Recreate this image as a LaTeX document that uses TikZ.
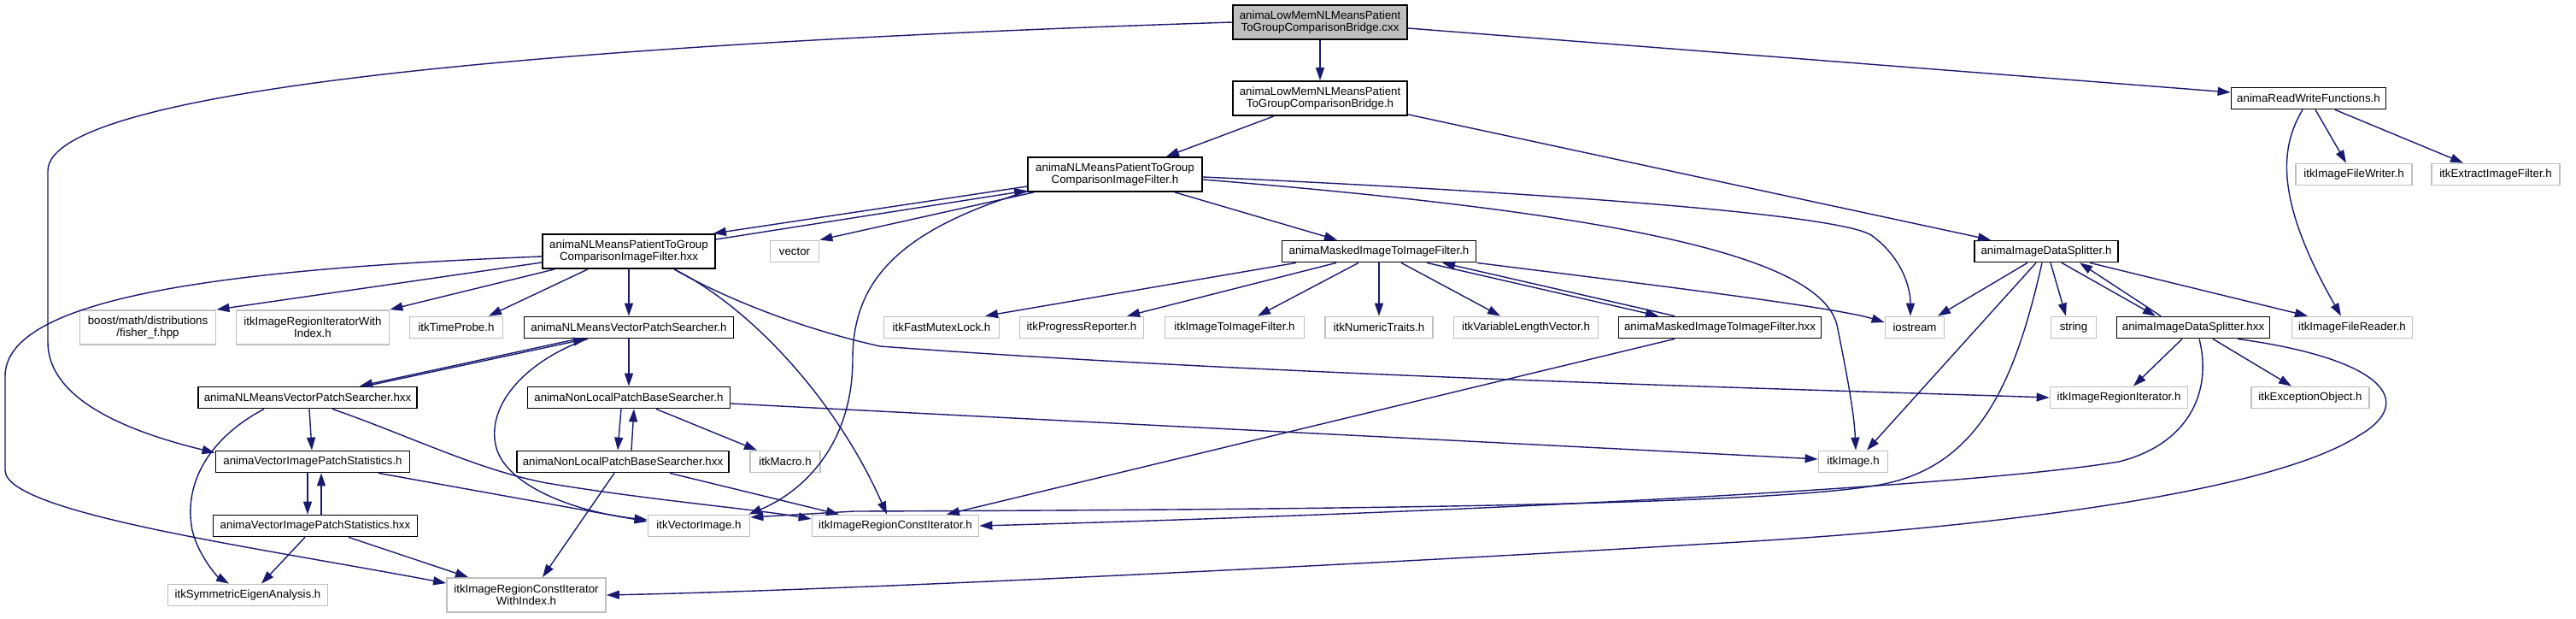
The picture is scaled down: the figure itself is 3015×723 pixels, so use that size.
\documentclass[tikz,border=0pt]{standalone}
\usepackage{fontspec}
\setmainfont{Liberation Sans}
\usetikzlibrary{arrows.meta}
\definecolor{edgeblue}{HTML}{191970}
\definecolor{boxgray}{HTML}{BFBFBF}
\begin{document}
\begin{tikzpicture}[x=1pt,y=-1pt,
  base/.style={draw, rectangle, inner sep=0pt, align=center, font=\fontsize{13.3}{14.3}\selectfont, line width=1.8pt},
  pj/.style={base, draw=black},
  ext/.style={base, draw=boxgray},
  root/.style={base, draw=black, fill=boxgray},
  sz/.style 2 args={minimum width=#1pt, minimum height=#2pt},
  e/.style={draw=edgeblue, line width=1.4pt, -{Triangle[length=15pt,width=10pt]}}]
\fill[white] (0,0) rectangle (3015,723);
\useasboundingbox (0,0) rectangle (3015,723);
% nodes
\node[root,sz={204}{40}] (cxx) at (1545,26) {animaLowMemNLMeansPatient\\ToGroupComparisonBridge.cxx};
\node[pj,sz={204}{40}] (bridge) at (1545,115) {animaLowMemNLMeansPatient\\ToGroupComparisonBridge.h};
\node[pj,sz={181}{25}] (rw) at (2702,115) {animaReadWriteFunctions.h};
\node[pj,sz={204}{40}] (filterh) at (1305,204) {animaNLMeansPatientToGroup\\ComparisonImageFilter.h};
\node[ext,sz={136}{25}] (writer) at (2755,204) {itkImageFileWriter.h};
\node[ext,sz={150}{25}] (extract) at (2921,204) {itkExtractImageFilter.h};
\node[pj,sz={202}{40}] (filterhxx) at (736,294) {animaNLMeansPatientToGroup\\ComparisonImageFilter.hxx};
\node[ext,sz={57}{25}] (vector) at (930,294) {vector};
\node[pj,sz={227}{25}] (maskedh) at (1614,294) {animaMaskedImageToImageFilter.h};
\node[pj,sz={168}{25}] (dsh) at (2395,294) {animaImageDataSplitter.h};
\node[ext,sz={159}{40}] (boost) at (173,383) {boost/math/distributions\\/fisher\_f.hpp};
\node[ext,sz={179}{40}] (itwi) at (366,383) {itkImageRegionIteratorWith\\Index.h};
\node[ext,sz={109}{25}] (timeprobe) at (534,383) {itkTimeProbe.h};
\node[pj,sz={245}{25}] (vpsh) at (736,383) {animaNLMeansVectorPatchSearcher.h};
\node[ext,sz={135}{25}] (mutex) at (1102,383) {itkFastMutexLock.h};
\node[ext,sz={145}{25}] (progress) at (1266,383) {itkProgressReporter.h};
\node[ext,sz={163}{25}] (i2i) at (1445,383) {itkImageToImageFilter.h};
\node[ext,sz={126}{25}] (numeric) at (1614,383) {itkNumericTraits.h};
\node[ext,sz={169}{25}] (varlen) at (1786,383) {itkVariableLengthVector.h};
\node[pj,sz={237}{25}] (maskedhxx) at (2013,383) {animaMaskedImageToImageFilter.hxx};
\node[ext,sz={69}{25}] (iostream) at (2241,383) {iostream};
\node[ext,sz={53}{25}] (string) at (2427,383) {string};
\node[pj,sz={179}{25}] (dshxx) at (2567,383) {animaImageDataSplitter.hxx};
\node[ext,sz={141}{25}] (reader) at (2753,383) {itkImageFileReader.h};
\node[pj,sz={256}{25}] (vpshxx) at (360,465) {animaNLMeansVectorPatchSearcher.hxx};
\node[pj,sz={237}{25}] (nlh) at (736,465) {animaNonLocalPatchBaseSearcher.h};
\node[ext,sz={161}{25}] (rit) at (2480,465) {itkImageRegionIterator.h};
\node[ext,sz={138}{25}] (exc) at (2704,465) {itkExceptionObject.h};
\node[pj,sz={227}{25}] (viph) at (366,540) {animaVectorImagePatchStatistics.h};
\node[pj,sz={248}{25}] (nlhxx) at (729,540) {animaNonLocalPatchBaseSearcher.hxx};
\node[ext,sz={82}{25}] (macro) at (919,540) {itkMacro.h};
\node[ext,sz={81}{25}] (itkimage) at (2169,540) {itkImage.h};
\node[pj,sz={239}{25}] (viphxx) at (369,615) {animaVectorImagePatchStatistics.hxx};
\node[ext,sz={119}{25}] (vecimg) at (818,615) {itkVectorImage.h};
\node[ext,sz={195}{25}] (rcit) at (1048,615) {itkImageRegionConstIterator.h};
\node[ext,sz={187}{25}] (eigen) at (290,696) {itkSymmetricEigenAnalysis.h};
\node[ext,sz={186}{40}] (rciwi) at (616,696) {itkImageRegionConstIterator\\WithIndex.h};
% edges from cxx
\draw[e] (cxx.south) -- (bridge.north);
\draw[e] ([yshift=-7pt]cxx.east) -- ([yshift=7pt]rw.west);
\draw[e] (cxx.west) .. controls (700,50) and (56,100) .. (56,200) -- (56,400) .. controls (56,460) and (130,500) .. ([yshift=-3pt]viph.north west);
% bridge
\draw[e] ([xshift=-54pt]bridge.south) -- ([xshift=60pt]filterh.north);
\draw[e] ([yshift=2pt]bridge.south east) -- ([xshift=-65pt]dsh.north);
% filter.h
\draw[e] ([yshift=-14pt]filterh.west) -- ([xshift=-3pt]filterhxx.north east);
\draw[e] ([yshift=14pt]filterhxx.east) -- ([yshift=-19pt]filterh.west);
\draw[e] ([xshift=8pt]filterh.south west) -- (vector.north east);
\draw[e] ([xshift=70pt]filterh.south) -- ([xshift=-49pt]maskedh.north);
\draw[e] ([yshift=-3pt]filterh.east) .. controls (1800,225) and (2150,250) .. (2190,275) .. controls (2225,300) and (2236,335) .. ([xshift=-5pt]iostream.north);
\draw[e] ([yshift=-6pt]filterh.east) .. controls (1900,250) and (2130,300) .. (2150,380) .. controls (2160,430) and (2170,480) .. ([xshift=3pt]itkimage.north);
\draw[e] ([yshift=1pt]filterh.south west) .. controls (1050,270) and (998,330) .. (998,420) .. controls (998,520) and (940,575) .. ([xshift=-2pt]vecimg.north east);
% filter.hxx
\draw[e] ([yshift=-6pt]filterhxx.west) .. controls (250,315) and (6,350) .. (6,440) -- (6,550) .. controls (6,600) and (300,640) .. ([yshift=-7pt]rciwi.north west);
\draw[e] ([yshift=-13pt]filterhxx.west) -- (boost.north east);
\draw[e] ([xshift=15pt]filterhxx.south west) -- (itwi.north east);
\draw[e] ([xshift=54pt]filterhxx.south west) -- ([xshift=38pt]timeprobe.north);
\draw[e] (filterhxx.south) -- (vpsh.north);
\draw[e] ([xshift=53pt]filterhxx.south) .. controls (880,360) and (980,470) .. ([xshift=-10pt]rcit.north);
\draw[e] ([xshift=53pt]filterhxx.south) .. controls (850,350) and (940,385) .. (1030,405) .. controls (1500,440) and (2100,455) .. (rit.west);
% vps.h
\draw[e] ([xshift=-60pt]vpsh.south) -- ([xshift=61pt]vpshxx.north);
\draw[e] ([xshift=68pt]vpshxx.north) -- ([xshift=-50pt]vpsh.south);
\draw[e] (vpsh.south) -- (nlh.north);
\draw[e] ([xshift=-48pt]vpsh.south) .. controls (620,420) and (570,470) .. (580,520) .. controls (590,570) and (680,600) .. ([yshift=7pt]vecimg.west);
% vps.hxx
\draw[e] ([xshift=2pt]vpshxx.south) -- ([xshift=-1pt]viph.north);
\draw[e] ([xshift=-51pt]vpshxx.south) .. controls (240,515) and (215,570) .. (225,620) .. controls (232,650) and (255,675) .. ([xshift=-22pt]eigen.north);
\draw[e] ([xshift=29pt]vpshxx.south) .. controls (480,510) and (560,550) .. (640,565) .. controls (760,585) and (880,595) .. ([yshift=8pt]rcit.west);
% nonlocal
\draw[e] ([xshift=-9pt]nlh.south) -- ([xshift=-6pt]nlhxx.north);
\draw[e] ([xshift=10pt]nlhxx.north) -- ([xshift=6pt]nlh.south);
\draw[e] ([xshift=32pt]nlh.south) -- ([xshift=-33pt]macro.north);
\draw[e] ([yshift=-7pt]nlh.east) .. controls (1200,490) and (1800,520) .. ([yshift=3pt]itkimage.west);
\draw[e] ([xshift=-10pt]nlhxx.south) -- ([xshift=19pt]rciwi.north);
\draw[e] ([xshift=55pt]nlhxx.south) -- ([xshift=-66pt]rcit.north);
% vips
\draw[e] ([xshift=-6pt]viph.south) -- ([xshift=-9pt]viphxx.north);
\draw[e] ([xshift=7pt]viphxx.north) -- ([xshift=10pt]viph.south);
\draw[e] ([xshift=77pt]viph.south) -- ([yshift=5pt]vecimg.west);
\draw[e] ([xshift=-12pt]viphxx.south) -- ([xshift=16pt]eigen.north);
\draw[e] ([xshift=39pt]viphxx.south) -- ([xshift=-68pt]rciwi.north);
% masked
\draw[e] ([xshift=-97pt]maskedh.south) -- ([xshift=51pt]mutex.north);
\draw[e] ([xshift=-50pt]maskedh.south) -- ([xshift=53pt]progress.north);
\draw[e] ([xshift=-24pt]maskedh.south) -- ([xshift=27pt]i2i.north);
\draw[e] (maskedh.south) -- (numeric.north);
\draw[e] ([xshift=26pt]maskedh.south) -- ([xshift=-30pt]varlen.north);
\draw[e] ([xshift=56pt]maskedh.south) -- ([xshift=-72pt]maskedhxx.north);
\draw[e] ([xshift=-53pt]maskedhxx.north) -- ([xshift=74pt]maskedh.south);
\draw[e] (maskedh.south east) .. controls (1950,335) and (2150,360) .. ([yshift=6pt]iostream.west);
\draw[e] ([xshift=-53pt]maskedhxx.south) -- ([xshift=60pt]rcit.north);
% data splitter
\draw[e] ([xshift=-22pt]dsh.south) -- ([xshift=27pt]iostream.north);
\draw[e] ([xshift=-12pt]dsh.south) -- ([xshift=16pt]itkimage.north);
\draw[e] ([xshift=-5pt]dsh.south) .. controls (2360,440) and (2320,540) .. (2210,565) .. controls (2100,590) and (1600,596) .. (1000,598) -- ([yshift=10pt]vecimg.east);
\draw[e] ([xshift=5pt]dsh.south) -- ([xshift=-9pt]string.north);
\draw[e] ([xshift=18pt]dsh.south) -- ([xshift=-44pt]dshxx.north);
\draw[e] ([xshift=-38pt]dshxx.north) -- ([xshift=39pt]dsh.south);
\draw[e] ([xshift=51pt]dsh.south) -- ([xshift=-52pt]reader.north);
% read write
\draw[e] ([xshift=-7pt]rw.south) .. controls (2670,170) and (2660,230) .. ([xshift=-13pt]reader.north);
\draw[e] ([xshift=8pt]rw.south) -- ([xshift=-9pt]writer.north);
\draw[e] ([xshift=31pt]rw.south) -- ([xshift=-38pt]extract.north);
% data splitter hxx
\draw[e] ([xshift=-13pt]dshxx.south) -- ([xshift=17pt]rit.north);
\draw[e] ([xshift=23pt]dshxx.south) -- ([xshift=-22pt]exc.north);
\draw[e] ([xshift=7pt]dshxx.south) .. controls (2590,460) and (2560,520) .. (2480,540) .. controls (2300,570) and (1700,600) .. (rcit.east);
\draw[e] ([xshift=52pt]dshxx.south) .. controls (2790,420) and (2830,470) .. (2760,510) .. controls (2650,580) and (2300,620) .. (2000,636) .. controls (1600,660) and (1000,690) .. (rciwi.east);
\end{tikzpicture}
\end{document}
